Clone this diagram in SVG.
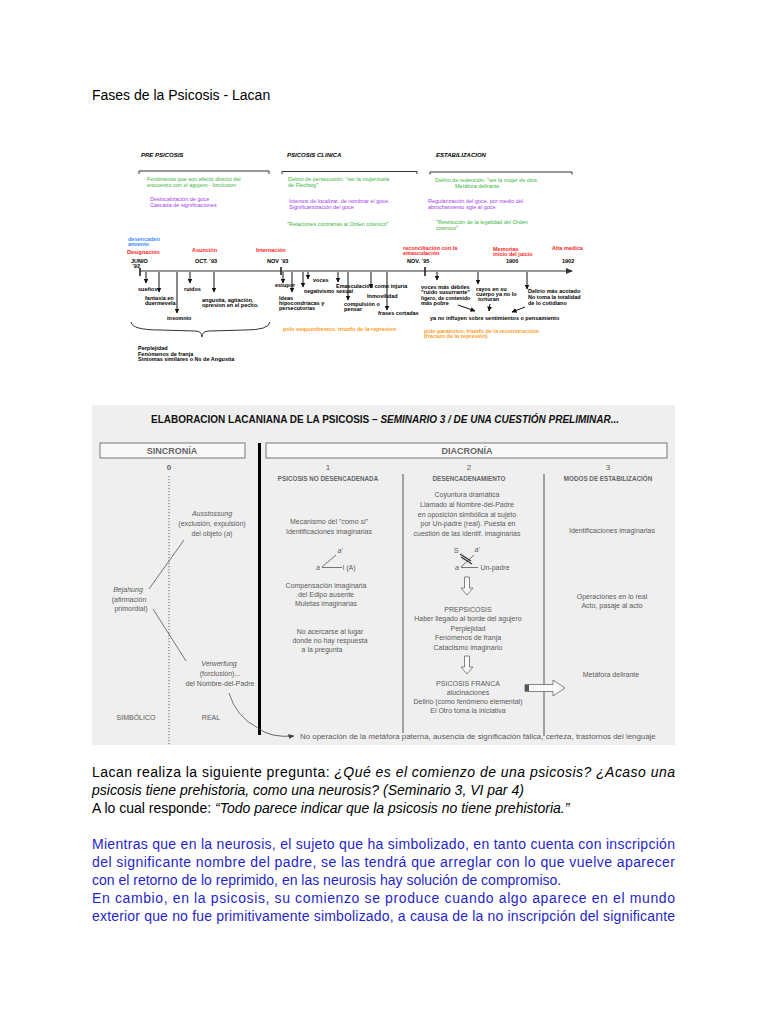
<svg xmlns="http://www.w3.org/2000/svg" width="768" height="1024" viewBox="0 0 768 1024">
<defs>
<style>
.body{font-family:"Liberation Sans",Arial,sans-serif;font-size:14px;fill:#000}
.blue{fill:#1f1fcc}
.t{font-family:"Liberation Sans",Arial,sans-serif;font-size:5.5px}
.tb{font-weight:bold;fill:#000}
.hd{font-family:"Liberation Sans",Arial,sans-serif;font-weight:bold;font-style:italic;font-size:6px;fill:#000}
.g{fill:#3cb43c}
.p{fill:#a040f0}
.r{fill:#ff2222;font-weight:bold}
.o{fill:#ff9a1a;font-weight:bold}
.bl{fill:#3a8cff;font-weight:bold}
.br{stroke:#333;stroke-width:1;fill:none}
.ar{stroke:#111;stroke-width:1;fill:none;marker-end:url(#ah)}
.d{font-family:"Liberation Sans",Arial,sans-serif;font-size:7px;fill:#5a5a5a;text-anchor:middle}
.dh{font-family:"Liberation Sans",Arial,sans-serif;font-size:7px;font-weight:bold;fill:#666;text-anchor:middle}
.bx{fill:#f8f8f8;stroke:#777;stroke-width:1}
.ln{stroke:#555;stroke-width:0.8;fill:none}
.hol{fill:#fafafa;stroke:#666;stroke-width:0.8}
</style>
<marker id="ah" markerUnits="userSpaceOnUse" markerWidth="5" markerHeight="5" refX="4.5" refY="2.5" orient="auto"><path d="M0,0 L5,2.5 L0,5 z" fill="#111"/></marker>
<marker id="ahb" markerUnits="userSpaceOnUse" markerWidth="7" markerHeight="6" refX="6" refY="3" orient="auto"><path d="M0,0 L7,3 L0,6 z" fill="#333"/></marker>
<marker id="ahg" markerUnits="userSpaceOnUse" markerWidth="6" markerHeight="5" refX="5.5" refY="2.5" orient="auto"><path d="M0,0 L6,2.5 L0,5 z" fill="#444"/></marker>
</defs>
<rect width="768" height="1024" fill="#fff"/>

<text class="body" x="92" y="100">Fases de la Psicosis - Lacan</text>

<!-- TOP TIMELINE DIAGRAM -->
<g id="top-headers">
<text class="hd" x="141" y="157">PRE PSICOSIS</text>
<path class="br" d="M139,174 V171 H269 V174"/>
<text class="t g" x="147" y="181">Fenómenos que son efecto directo del</text>
<text class="t g" x="147" y="186.5">encuentro con el agujero - forclusion</text>
<text class="t p" x="150" y="201">Deslocalización de goce</text>
<text class="t p" x="150" y="206.5">Cascada de significaciones</text>

<text class="hd" x="287" y="157">PSICOSIS CLINICA</text>
<path class="br" d="M282,174 V171.5 H417 V174"/>
<text class="t g" x="288" y="181">Delirio de persecusión: "ser la mujerzuela</text>
<text class="t g" x="288" y="186.5">de Flechsig"</text>
<text class="t p" x="289" y="203">Intentos de localizar, de nombrar el goce.</text>
<text class="t p" x="289" y="208.5">Significantización del goce</text>
<text class="t g" x="287" y="226">"Relaciones contrarías al Orden cósmico"</text>

<text class="hd" x="436" y="157">ESTABILIZACION</text>
<path class="br" d="M430,174.5 V172 H572 V174.5"/>
<text class="t g" x="435" y="182">Delirio de redención: "ser la mujer de dios</text>
<text class="t g" x="455" y="187.5">Metáfora delirante</text>
<text class="t p" x="428" y="203">Regularización del goce, por medio del</text>
<text class="t p" x="428" y="208.5">abrochamiento sgte al goce</text>
<text class="t g" x="436" y="224">"Restitución de la legalidad del Orden</text>
<text class="t g" x="436" y="229.5">cosmico"</text>
</g>

<g id="timeline">
<path d="M140,271 H572" stroke="#333" stroke-width="1.2" fill="none" marker-end="url(#ahb)"/>
<path d="M140,268 V276 M281,267 V275 M425,267 V276" stroke="#222" stroke-width="1.6"/>
<text class="t bl" x="128" y="241">desencaden</text>
<text class="t bl" x="128" y="246">amiento</text>
<text class="t r" x="127" y="254">Designación</text>
<text class="t tb" x="131" y="263">JUNIO</text>
<text class="t tb" x="132" y="268">´92</text>
<text class="t r" x="192" y="252">Asunción</text>
<text class="t tb" x="195" y="263">OCT. ´93</text>
<text class="t r" x="256" y="252">Internación</text>
<text class="t tb" x="267" y="263">NOV ´93</text>
<text class="t r" x="403" y="250">reconciliación con la</text>
<text class="t r" x="403" y="255">emasculación</text>
<text class="t tb" x="407" y="263">NOV. ´95</text>
<text class="t r" x="493" y="251">Memorias</text>
<text class="t r" x="493" y="256">inicio del juicio</text>
<text class="t tb" x="506" y="263">1900</text>
<text class="t r" x="552" y="250">Alta medica</text>
<text class="t tb" x="562" y="263">1902</text>
</g>

<g id="timeline-arrows">
<path class="ar" d="M146,272 V283"/>
<path class="ar" d="M159,272 V292"/>
<path class="ar" d="M177,272 V313"/>
<path class="ar" d="M190,272 V283"/>
<path class="ar" d="M214,272 V292"/>
<path class="ar" d="M283,272 V283"/>
<path class="ar" d="M292,272 V292"/>
<path class="ar" d="M303,272 V287"/>
<path class="ar" d="M308,272 V279"/>
<path class="ar" d="M338,272 V282"/>
<path class="ar" d="M348,272 V300"/>
<path class="ar" d="M371,272 V288"/>
<path class="ar" d="M387,272 V310"/>
<path class="ar" d="M437,272 V280"/>
<path class="ar" d="M478,272 V284"/>
<path class="ar" d="M527,272 V289"/>
<path class="ar" d="M458,305 L475,311"/>
<path class="ar" d="M490,304 L489,311"/>
<path class="ar" d="M525,307 L512,312"/>
</g>

<g id="timeline-labels">
<text class="t tb" x="138" y="291">sueños</text>
<text class="t tb" x="145" y="300">fantasía en</text>
<text class="t tb" x="145" y="305">duermevela</text>
<text class="t tb" x="167" y="320">insomnio</text>
<text class="t tb" x="184" y="291">ruidos</text>
<text class="t tb" x="202" y="302">angustia, agitación,</text>
<text class="t tb" x="202" y="307">opresion en el pecho.</text>
<text class="t tb" x="275" y="287">estupor</text>
<text class="t tb" x="279" y="300">Ideas</text>
<text class="t tb" x="279" y="305">hipocondríacas y</text>
<text class="t tb" x="279" y="310">persecutorias</text>
<text class="t tb" x="304" y="293" style="font-size:5.2px">negativismo</text>
<text class="t tb" x="313" y="282">voces</text>
<text class="t tb" x="336" y="287.5">Emasculación como injuria</text>
<text class="t tb" x="336" y="292.5">sexual</text>
<text class="t tb" x="344" y="306">compulsión o</text>
<text class="t tb" x="344" y="311">pensar</text>
<text class="t tb" x="367" y="297.5">Inmovilidad</text>
<text class="t tb" x="378" y="315">frases cortadas</text>
<text class="t tb" x="421" y="289">voces más débiles</text>
<text class="t tb" x="421" y="294">"ruido susurrante"</text>
<text class="t tb" x="421" y="300" style="font-size:5.2px">ligero, de contenido</text>
<text class="t tb" x="421" y="305">más pobre</text>
<text class="t tb" x="476" y="291">rayos en su</text>
<text class="t tb" x="476" y="296">cuerpo ya no lo</text>
<text class="t tb" x="478" y="301">torturan</text>
<text class="t tb" x="528" y="293">Delirio más acotado</text>
<text class="t tb" x="528" y="299">No toma la totalidad</text>
<text class="t tb" x="528" y="305">de lo cotidiano</text>
<text class="t tb" x="430" y="320">ya no influyen sobre sentimientos o pensamiento</text>
<path class="br" d="M131,322 Q132,330 160,330 L195,331 Q202,331 202,337 Q202,331 209,331 L245,330 Q269,330 270,322" stroke-width="0.8"/>
<text class="t o" x="283" y="331">polo esquizofrenico, triunfo de la represion</text>
<text class="t o" x="424" y="333">polo paranoico, triunfo de la reconstrucción</text>
<text class="t o" x="424" y="338">(fracazo de la represión)</text>
<text class="t tb" x="138" y="350">Perplejidad</text>
<text class="t tb" x="138" y="355.5">Fenómenos de franja</text>
<text class="t tb" x="138" y="361">Sintomas similares o Ns de Angustia</text>
</g>

<!-- BOTTOM DIAGRAM -->
<rect x="92" y="405" width="583" height="340" fill="#efefef"/>
<g id="bottom-title">
<text x="151" y="423" textLength="468" lengthAdjust="spacingAndGlyphs" style="font-family:'Liberation Sans',Arial,sans-serif;font-size:10px;font-weight:bold;fill:#111">ELABORACION LACANIANA DE LA PSICOSIS – <tspan font-style="italic">SEMINARIO 3 / DE UNA CUESTIÓN PRELIMINAR...</tspan></text>
</g>
<g id="sincronia">
<rect class="bx" x="100" y="443" width="145" height="15"/>
<text class="dh" x="172" y="454" style="font-size:9px">SINCRONÍA</text>
<text class="dh" x="169" y="470" style="font-size:8px">0</text>
<path d="M169,476 V745" stroke="#666" stroke-width="1" stroke-dasharray="1.2,1.8"/>
</g>
<g id="diacronia">
<rect class="bx" x="266" y="443" width="401" height="15"/>
<text class="dh" x="467" y="454" style="font-size:9px">DIACRONÍA</text>
</g>
<path d="M259.5,443 V735" stroke="#000" stroke-width="3"/>
<path d="M403,474 V733 M544,474 V736" stroke="#555" stroke-width="1"/>

<g id="col0">
<text class="d" x="212" y="516" font-style="italic">Ausstossung</text>
<text class="d" x="212" y="526">(exclusión, expulsión)</text>
<text class="d" x="212" y="536">del objeto (<tspan font-style="italic">a</tspan>)</text>
<path class="ln" d="M184,540 L149,589"/>
<text class="d" x="128" y="592" font-style="italic">Bejahung</text>
<text class="d" x="129" y="602">(afirmación</text>
<text class="d" x="131" y="611">primordial)</text>
<path class="ln" d="M153,609 L186,661"/>
<text class="d" x="219" y="666" font-style="italic">Verwerfung</text>
<text class="d" x="220" y="676">(forclusión)...</text>
<text class="d" x="220" y="686">del Nombre-del-Padre</text>
<path class="ln" d="M229,693 Q236,717 258,728"/>
<text class="d" x="136" y="720">SIMBÓLICO</text>
<text class="d" x="211" y="720">REAL</text>
</g>
<g id="connector-bottom">
<path d="M258,728 Q270,738 294,736" stroke="#444" stroke-width="0.8" fill="none" marker-end="url(#ahg)"/>
<text class="d" x="300" y="739" style="text-anchor:start;font-size:7.9px">No operación de la metáfora paterna, ausencia de significación fálica, certeza, trastornos del lenguaje</text>
</g>

<g id="col1">
<text class="d" x="328" y="470" style="font-size:8px">1</text>
<text class="dh" x="328" y="481" style="font-size:6.3px">PSICOSIS NO DESENCADENADA</text>
<text class="d" x="329" y="524">Mecanismo del "<tspan font-style="italic">como si</tspan>"</text>
<text class="d" x="329" y="534">Identificaciones imaginarias</text>
<text class="d" x="340" y="553" font-style="italic">a'</text>
<path class="ln" d="M322,567 L336,555 M322,567.5 H342"/>
<text class="d" x="318" y="570" font-style="italic">a</text>
<text class="d" x="349" y="570">I (A)</text>
<text class="d" x="326" y="588">Compensación imaginaria</text>
<text class="d" x="326" y="597">del Edipo ausente</text>
<text class="d" x="326" y="606">Muletas imaginarias</text>
<text class="d" x="330" y="634">No acercarse al lugar</text>
<text class="d" x="330" y="643">donde no hay respuesta</text>
<text class="d" x="322" y="652">a la pregunta</text>
</g>

<g id="col2">
<text class="d" x="469" y="470" style="font-size:8px">2</text>
<text class="dh" x="469" y="481" style="font-size:6.3px">DESENCADENAMIENTO</text>
<text class="d" x="467" y="497">Coyuntura dramática</text>
<text class="d" x="467" y="507">Llamado al Nombre-del-Padre</text>
<text class="d" x="467" y="517">en oposición simbólica al sujeto</text>
<text class="d" x="468" y="526">por Un-padre (real).  Puesta en</text>
<text class="d" x="467" y="536">cuestión de las identif. imaginarias</text>
<text class="d" x="456" y="553">S</text>
<text class="d" x="477" y="552" font-style="italic">a'</text>
<path class="ln" d="M461,567 L474,555 M461,567.5 H478"/>
<path d="M460,554 L471,561 M461,557 L472,564" stroke="#333" stroke-width="1.3"/>
<text class="d" x="457" y="570" font-style="italic">a</text>
<text class="d" x="495" y="570">Un-padre</text>
<path class="hol" d="M464.5,577 H469.5 V588 H473 L467,595 L461,588 H464.5 Z"/>
<text class="d" x="468" y="612">PREPSICOSIS</text>
<text class="d" x="468" y="621">Haber llegado al borde del agujero</text>
<text class="d" x="468" y="631">Perplejidad</text>
<text class="d" x="468" y="640">Fenómenos de franja</text>
<text class="d" x="468" y="650">Cataclismo imaginario</text>
<path class="hol" d="M464.5,656 H469.5 V667 H473 L467,674 L461,667 H464.5 Z"/>
<text class="d" x="468" y="686">PSICOSIS FRANCA</text>
<text class="d" x="468" y="695">alucinaciones</text>
<text class="d" x="468" y="704">Delirio (como fenómeno elemental)</text>
<text class="d" x="468" y="713">El Otro toma la iniciativa</text>
<path class="hol" d="M525,684.5 H553 V680 L565,688 L553,696 V691.5 H525 Z"/>
<path d="M525,685 H529 V691 H525 Z" fill="#555"/>
</g>

<g id="col3">
<text class="d" x="608" y="470" style="font-size:8px">3</text>
<text class="dh" x="608" y="481" style="font-size:6.3px">MODOS DE ESTABILIZACIÓN</text>
<text class="d" x="612" y="533">Identificaciones imaginarias</text>
<text class="d" x="612" y="599">Operaciones en lo real</text>
<text class="d" x="612" y="608">Acto, pasaje al acto</text>
<text class="d" x="611" y="677">Metáfora delirante</text>
</g>

<!-- BODY TEXT -->
<g id="body-text">
<text class="body" x="92" y="777" textLength="583" lengthAdjust="spacing">Lacan realiza la siguiente pregunta: <tspan font-style="italic">¿Qué es el comienzo de una psicosis? ¿Acaso una</tspan></text>
<text class="body" x="92" y="795" font-style="italic">psicosis tiene prehistoria, como una neurosis? (Seminario 3, VI par 4)</text>
<text class="body" x="92" y="813">A lo cual responde:  <tspan font-style="italic">“Todo parece indicar que la psicosis no tiene prehistoria.”</tspan></text>
<text class="body blue" x="92" y="849" textLength="583" lengthAdjust="spacing">Mientras que en la neurosis, el sujeto que ha simbolizado, en tanto cuenta con inscripción</text>
<text class="body blue" x="92" y="867" textLength="583" lengthAdjust="spacing">del significante nombre del padre, se las tendrá que arreglar con lo que vuelve aparecer</text>
<text class="body blue" x="92" y="885">con el retorno de lo reprimido, en las neurosis hay solución de compromiso.</text>
<text class="body blue" x="92" y="903" textLength="583" lengthAdjust="spacing">En cambio, en la psicosis, su comienzo se produce cuando algo aparece en el mundo</text>
<text class="body blue" x="92" y="921" textLength="583" lengthAdjust="spacing">exterior que no fue primitivamente simbolizado, a causa de la no inscripción del significante</text>
</g>
</svg>
